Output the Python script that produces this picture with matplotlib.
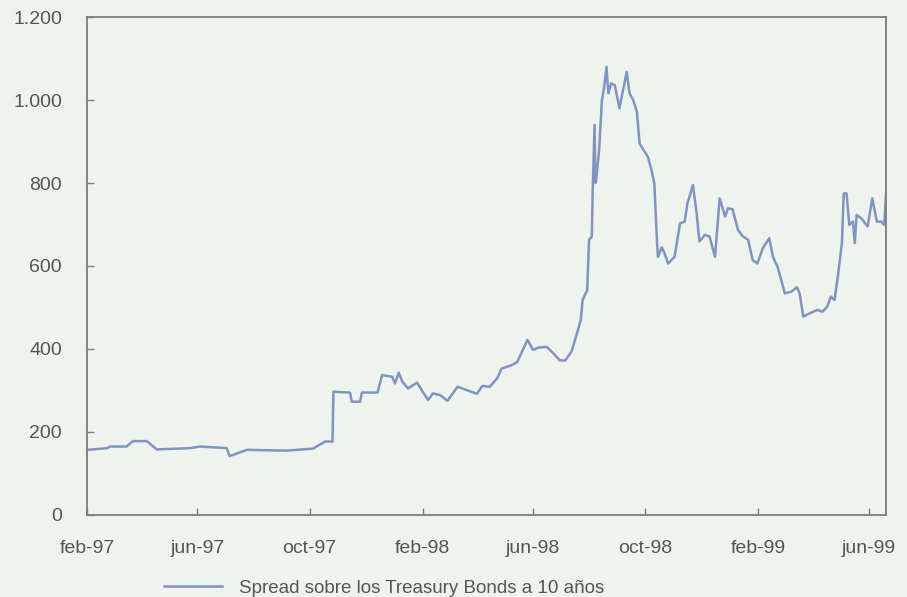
import matplotlib
matplotlib.use("Agg")
import matplotlib.pyplot as plt
import pandas as pd

dates = [
    "1997-02-02", "1997-02-23", "1997-02-26", "1997-03-16", "1997-03-23", "1997-04-07",
    "1997-04-18", "1997-05-24", "1997-06-04", "1997-07-03", "1997-07-06", "1997-07-10",
    "1997-07-25", "1997-09-06", "1997-10-05", "1997-10-12", "1997-10-18", "1997-10-26",
    "1997-10-27", "1997-11-14", "1997-11-16", "1997-11-25", "1997-11-27", "1997-12-14",
    "1997-12-19", "1997-12-30", "1998-01-02", "1998-01-06", "1998-01-10", "1998-01-16",
    "1998-01-26", "1998-02-01", "1998-02-07", "1998-02-12", "1998-02-20", "1998-02-28",
    "1998-03-11", "1998-03-21", "1998-04-01", "1998-04-07", "1998-04-15", "1998-04-23",
    "1998-04-28", "1998-05-09", "1998-05-15", "1998-05-21", "1998-05-26", "1998-06-01",
    "1998-06-08", "1998-06-16", "1998-06-23", "1998-06-30", "1998-07-06", "1998-07-13",
    "1998-07-20", "1998-07-23", "1998-07-25", "1998-07-30", "1998-08-01", "1998-08-04",
    "1998-08-05", "1998-08-07", "1998-08-08", "1998-08-09", "1998-08-12", "1998-08-15",
    "1998-08-17", "1998-08-20", "1998-08-22", "1998-08-25", "1998-08-29", "1998-09-03",
    "1998-09-11", "1998-09-14", "1998-09-18", "1998-09-22", "1998-09-25", "1998-09-28",
    "1998-10-04", "1998-10-08", "1998-10-11", "1998-10-14", "1998-10-15", "1998-10-19",
    "1998-10-22", "1998-10-26", "1998-11-02", "1998-11-08", "1998-11-13", "1998-11-16",
    "1998-11-22", "1998-11-26", "1998-11-29", "1998-12-05", "1998-12-10", "1998-12-16",
    "1998-12-21", "1998-12-27", "1998-12-30", "1999-01-04", "1999-01-10", "1999-01-15",
    "1999-01-21", "1999-01-26", "1999-01-31", "1999-02-06", "1999-02-13", "1999-02-17",
    "1999-02-22", "1999-03-02", "1999-03-09", "1999-03-15", "1999-03-18", "1999-03-22",
    "1999-03-29", "1999-04-06", "1999-04-12", "1999-04-17", "1999-04-21", "1999-04-25",
    "1999-04-29", "1999-05-03", "1999-05-05", "1999-05-08", "1999-05-11", "1999-05-15",
    "1999-05-17", "1999-05-19", "1999-05-24", "1999-05-31", "1999-06-05", "1999-06-10",
    "1999-06-15", "1999-06-18", "1999-06-20",
]
spread = [
    157, 161, 165, 165, 178, 178,
    158, 161, 165, 161, 142, 145,
    157, 155, 160, 169, 177, 177,
    297, 295, 273, 273, 295, 295,
    337, 333, 317, 343, 321, 305,
    319, 297, 277, 293, 289, 275,
    309, 301, 292, 311, 309, 329,
    353, 361, 369, 398, 422, 398,
    404, 405, 390, 373, 372, 394,
    446, 470, 518, 542, 663, 671,
    783, 940, 800, 812, 880, 1000,
    1024, 1080, 1016, 1040, 1036, 980,
    1068, 1016, 1000, 972, 895, 884,
    863, 831, 799, 655, 622, 645,
    631, 606, 622, 703, 707, 751,
    795, 727, 659, 675, 671, 622,
    763, 719, 739, 737, 687, 672,
    663, 614, 606, 643, 667, 622,
    598, 534, 538, 549, 534, 478,
    486, 494, 490, 502, 526, 518,
    582, 655, 775, 775, 699, 707,
    655, 723, 715, 695, 763, 707,
    707, 699, 775,
]
tick_dates = ["1997-02-01", "1997-06-01", "1997-10-01", "1998-02-01",
              "1998-06-01", "1998-10-01", "1999-02-01", "1999-06-01"]
tick_labels = ["feb-97", "jun-97", "oct-97", "feb-98", "jun-98", "oct-98", "feb-99", "jun-99"]
y_ticks = [0, 200, 400, 600, 800, 1000, 1200]
y_labels = ["0", "200", "400", "600", "800", "1.000", "1.200"]
legend_label = "Spread sobre los Treasury Bonds a 10 años"

bg = "#eff3ee"
line_color = "#8094c0"
axis_color = "#7c7c7c"
text_color = "#555555"

plt.rcParams["font.family"] = ["Liberation Sans", "DejaVu Sans"]

fig = plt.figure(figsize=(9.07, 5.97), dpi=100, facecolor=bg)
ax = fig.add_axes([0.0959, 0.1374, 0.8810, 0.8341], facecolor=bg)

x = pd.to_datetime(dates)
ax.plot(x, spread, color=line_color, lw=1.8, label=legend_label)

ax.set_xlim(pd.Timestamp("1997-02-01"), pd.Timestamp("1999-06-20"))
ax.set_ylim(0, 1200)
ax.set_xticks(pd.to_datetime(tick_dates))
ax.set_xticklabels(tick_labels)
ax.set_yticks(y_ticks)
ax.set_yticklabels(y_labels)

for s in ax.spines.values():
    s.set_color(axis_color)
    s.set_linewidth(1.3)

ax.tick_params(axis="both", direction="in", length=5, width=1, color=axis_color,
               labelcolor=text_color, labelsize=14)
ax.tick_params(axis="y", pad=18)
ax.tick_params(axis="x", pad=18)

leg = ax.legend(loc="upper left", bbox_to_anchor=(0.087, -0.115), frameon=False,
                fontsize=13.5, handlelength=3.1, handletextpad=0.9, borderaxespad=0)
for t in leg.get_texts():
    t.set_color(text_color)

fig.savefig("out.png", dpi=100, facecolor=bg)
